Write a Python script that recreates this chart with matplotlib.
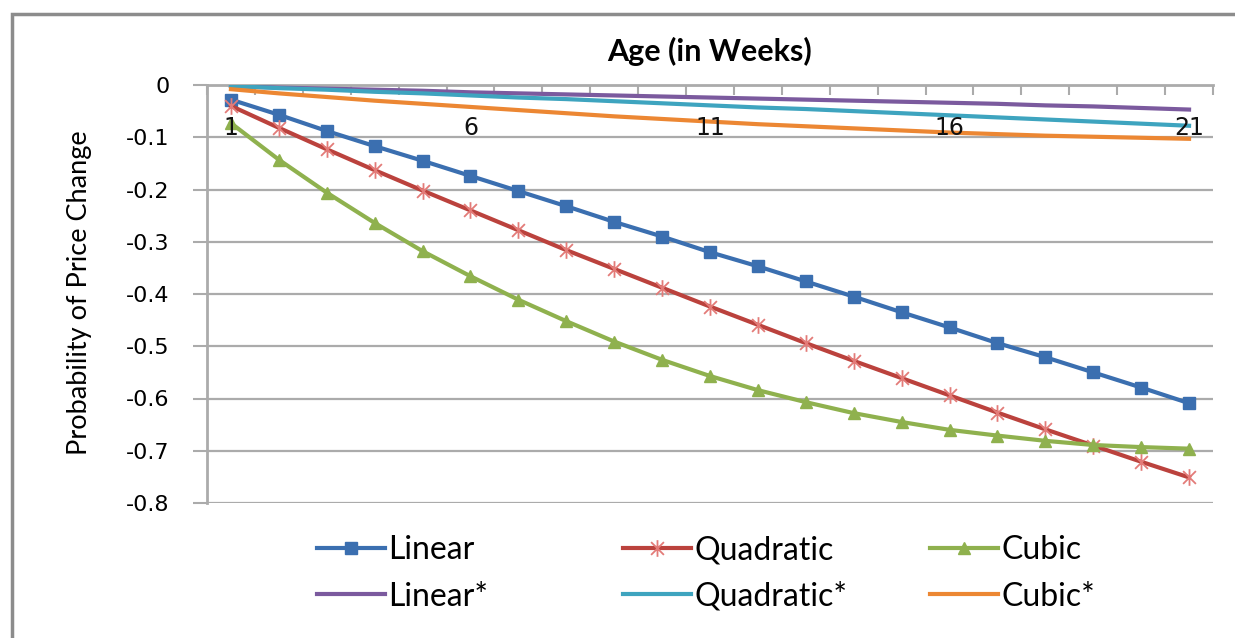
import matplotlib
matplotlib.use("Agg")
import matplotlib.pyplot as plt
from matplotlib.path import Path

# weekly probabilities of a price change, one list per fitted model
weeks = list(range(1, 22))
linear = [-0.028, -0.057, -0.088, -0.117, -0.145, -0.174, -0.203, -0.232, -0.262, -0.290, -0.320,
          -0.347, -0.376, -0.405, -0.435, -0.464, -0.494, -0.521, -0.550, -0.579, -0.609]
quadratic = [-0.040, -0.082, -0.123, -0.163, -0.202, -0.240, -0.278, -0.316, -0.352, -0.388, -0.424,
             -0.459, -0.494, -0.528, -0.561, -0.594, -0.627, -0.659, -0.690, -0.721, -0.751]
cubic = [-0.073, -0.143, -0.206, -0.264, -0.318, -0.366, -0.411, -0.452, -0.491, -0.526, -0.557,
         -0.584, -0.607, -0.628, -0.645, -0.660, -0.671, -0.681, -0.689, -0.693, -0.696]
linear_s = [-0.002, -0.005, -0.007, -0.009, -0.011, -0.014, -0.016, -0.018, -0.020, -0.022, -0.024,
            -0.026, -0.028, -0.030, -0.032, -0.034, -0.036, -0.039, -0.041, -0.044, -0.047]
quadratic_s = [-0.002, -0.006, -0.009, -0.013, -0.016, -0.020, -0.024, -0.027, -0.031, -0.035, -0.039,
               -0.043, -0.046, -0.050, -0.054, -0.058, -0.062, -0.066, -0.070, -0.074, -0.078]
cubic_s = [-0.008, -0.016, -0.023, -0.030, -0.036, -0.042, -0.048, -0.054, -0.060, -0.065, -0.070,
           -0.075, -0.079, -0.083, -0.087, -0.091, -0.094, -0.097, -0.099, -0.101, -0.103]

x_labels = [1, 6, 11, 16, 21]
y_ticks = [0, -0.1, -0.2, -0.3, -0.4, -0.5, -0.6, -0.7, -0.8]
y_labels = ['0', '-0.1', '-0.2', '-0.3', '-0.4', '-0.5', '-0.6', '-0.7', '-0.8']

W, H = 1235, 638
fig = plt.figure(figsize=(W / 100, H / 100), dpi=100)
ax = fig.add_axes([207 / W, 1 - 503 / H, (1213 - 207) / W, (503 - 85) / H])

# excel style star: an X with a vertical bar through it
star = Path([(-1, -1), (1, 1), (-1, 1), (1, -1), (0, -1.3), (0, 1.3)],
            [Path.MOVETO, Path.LINETO, Path.MOVETO, Path.LINETO, Path.MOVETO, Path.LINETO])

l1, = ax.plot(weeks, linear, color='#3B6FB0', lw=3, marker='s', ms=8.5, mec='#3B6FB0', zorder=3)
l2, = ax.plot(weeks, quadratic, color='#BB423D', lw=3, marker=star, ms=12, mfc='none',
              mec='#E37B78', mew=1.3, zorder=3)
l3, = ax.plot(weeks, cubic, color='#8FB14E', lw=3, marker='^', ms=9, mec='#8FB14E', zorder=3)
l4, = ax.plot(weeks, linear_s, color='#7B5A9E', lw=3, zorder=3)
l5, = ax.plot(weeks, quadratic_s, color='#3EA4BF', lw=3, zorder=3)
l6, = ax.plot(weeks, cubic_s, color='#EC8733', lw=3, zorder=3)

ax.set_xlim(0.5, 21.5)
ax.set_ylim(-0.8, 0)

grid_c = '#ABABAB'
ax.set_yticks(y_ticks)
ax.set_yticklabels(y_labels, fontfamily='DejaVu Sans', fontsize=16)
ax.tick_params(axis='y', direction='out', length=10, width=1.5, color=grid_c, pad=17)
ax.yaxis.grid(True, color=grid_c, lw=1.6)
ax.set_axisbelow(True)

# category axis sits on the zero line, ticks between the weeks
ax.xaxis.tick_top()
ax.set_xticks([w - 0.5 for w in weeks] + [weeks[-1] + 0.5])
ax.tick_params(axis='x', direction='in', length=7, width=1.5, color=grid_c, labeltop=False)
for w in x_labels:
    ax.text(w, -0.082, str(w), ha='center', va='center', fontfamily='DejaVu Sans',
            fontsize=17, color='#111111', zorder=5)

for side in ['right', 'bottom']:
    ax.spines[side].set_visible(False)
for side in ['left', 'top']:
    ax.spines[side].set_color(grid_c)
    ax.spines[side].set_linewidth(2)

ax.set_title('Age (in Weeks)', fontfamily='Lato', fontweight='bold', fontsize=22, pad=17)
fig.text(80 / W, 1 - 293 / H, 'Probability of Price Change', rotation=90, ha='center',
         va='center', fontfamily='Lato', fontsize=19.5)

# legend as three fixed-width columns
cols = [([l1, l4], ['Linear', 'Linear*'], 317),
        ([l2, l5], ['Quadratic', 'Quadratic*'], 623),
        ([l3, l6], ['Cubic', 'Cubic*'], 930)]
for handles, names, x0 in cols:
    leg = fig.legend(handles, names, loc='upper left', bbox_to_anchor=(x0 / W, 1 - 535 / H),
                     frameon=False, borderpad=0, borderaxespad=0, handlelength=2.13,
                     handletextpad=0.1, labelspacing=0.52,
                     prop={'family': 'Lato', 'size': 23})

# outer chart border
fig.patches.append(plt.Rectangle((12 / W, -0.5), 2, 1.5 - 14 / H, transform=fig.transFigure,
                                 fill=False, edgecolor='#8C8C8C', lw=2.5))

fig.savefig('out.png', dpi=100)
